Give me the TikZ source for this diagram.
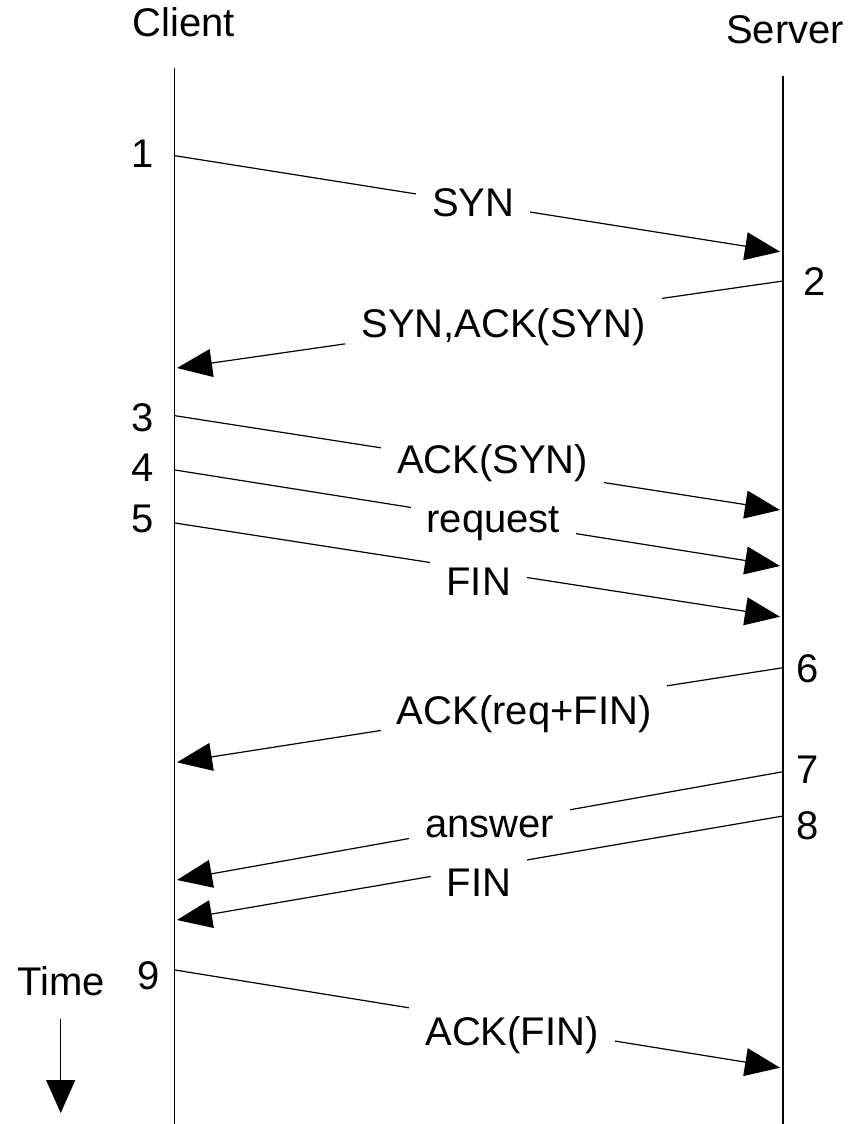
\documentclass[tikz,border=0pt]{standalone}
\usepackage{fontspec}
\setmainfont{Liberation Sans}
\usetikzlibrary{arrows.meta}
\tikzset{
  txt/.style={font=\fontsize{40}{48}\selectfont,anchor=base,inner sep=0pt},
  lbl/.style={txt,fill=white,inner xsep=16pt,inner ysep=12pt},
  msg/.style={-{Triangle[length=35pt,width=28pt]}},
}
\begin{document}
\begin{tikzpicture}[x=1pt,y=-1pt,line width=1.2pt]
\useasboundingbox (0,0) rectangle (851,1124);
%titres
\node[txt] (client) at (184,37) {Client};
\node[txt] (server) at (785,44) {Server};
%axes
\coordinate (ctop) at (174.5,68);
\coordinate (cbot) at (174.5,1124);
\coordinate (stop) at (783,76);
\coordinate (sbot) at (783,1124);
\draw (ctop) -- (cbot);
\draw (stop) -- (sbot);
%numeros
\foreach \n/\x/\y in {1/142.5/167,2/815/295,3/143/431,4/143/481,5/143/532,6/808/682,7/808/783,8/808/839,9/149/989}
{\node[txt] (n\n) at (\x,\y) {\n};}
%extremites
\coordinate (c1) at (175,155.7); \coordinate (s1) at (780,251.7);
\coordinate (s2) at (783,281);   \coordinate (c2) at (177,368);
\coordinate (c3) at (175,415.7); \coordinate (s3) at (780,510);
\coordinate (c4) at (175,470);   \coordinate (s4) at (780,566);
\coordinate (c5) at (175,523);   \coordinate (s5) at (780,616.7);
\coordinate (s6) at (783,667.7); \coordinate (c6) at (177,762.3);
\coordinate (s7) at (783,771.7); \coordinate (c7) at (177,880);
\coordinate (s8) at (783,816);   \coordinate (c8) at (177,920);
\coordinate (c9) at (175,970);   \coordinate (s9) at (780,1067.7);
%messages
\draw[msg] (c1) -- node[lbl,pos=.493,yshift=-13pt] (m1) {SYN} (s1);
\draw[msg] (s2) -- node[lbl,pos=.461,yshift=-16pt] (m2) {SYN,ACK(SYN)} (c2);
\draw[msg] (c3) -- node[lbl,pos=.525,yshift=-8pt] (m3) {ACK(SYN)} (s3);
\draw[msg] (c4) -- node[lbl,pos=.526,yshift=-11.5pt] (m4) {request} (s4);
\draw[msg] (c5) -- node[lbl,pos=.502,yshift=-25pt] (m5) {FIN} (s5);
\draw[msg] (s6) -- node[lbl,pos=.427,yshift=-16pt] (m6) {ACK(req+FIN)} (c6);
\draw[msg] (s7) -- node[lbl,pos=.484,yshift=-13pt] (m7) {answer} (c7);
\draw[msg] (s8) -- node[lbl,pos=.502,yshift=-28pt] (m8) {FIN} (c8);
\draw[msg] (c9) -- node[lbl,pos=.557,yshift=-21pt] (m9) {ACK(FIN)} (s9);
%temps
\node[txt] (time) at (61.5,995) {Time};
\coordinate (t0) at (60.7,1019);
\coordinate (t1) at (60.7,1113);
\draw[-{Triangle[length=33pt,width=29pt]}] (t0) -- (t1);
\end{tikzpicture}
\end{document}
